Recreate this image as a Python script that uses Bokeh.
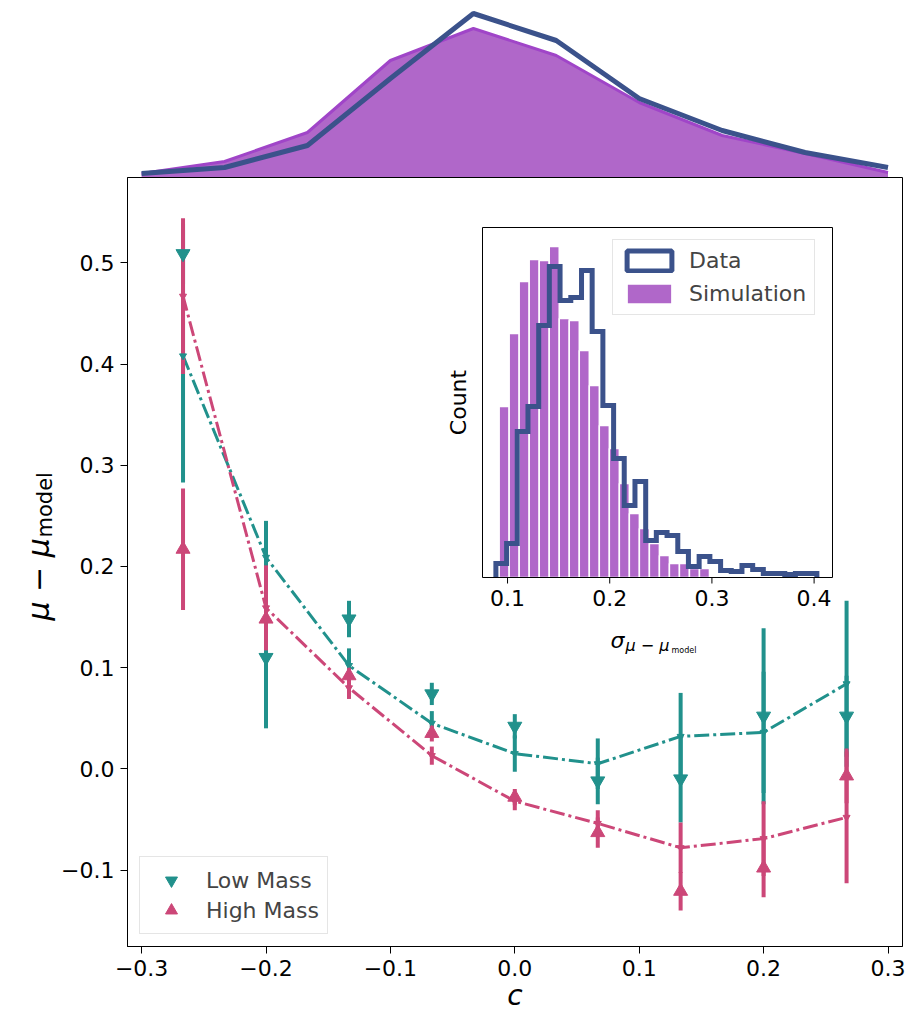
import numpy as np
from math import pi
from bokeh.plotting import figure
from bokeh.layouts import column, row
from bokeh.models import Range1d, FixedTicker, Legend, LegendItem, Label
from bokeh.core.properties import value
from bokeh.embed import file_html
from bokeh.resources import INLINE

FONT = "DejaVu Sans"
TEAL = "#21918c"
PINK = "#cc4778"
NAVY = "#3b528b"
PURPLE_FILL = "#b067c9"
PURPLE_EDGE = "#a045c8"

# ---------------- data ----------------
c_bins = [-0.2667, -0.2, -0.1333, -0.0667, 0.0, 0.0667, 0.1333, 0.2, 0.2667]

low_mean = [0.408, 0.209, 0.102, 0.045, 0.015, 0.005, 0.032, 0.036, 0.084]
low_mean_err = [0.125, 0.036, 0.017, 0.012, 0.018, 0.025, 0.043, 0.060, 0.082]
low_tri = [0.509, 0.110, 0.148, 0.074, 0.042, -0.012, -0.010, 0.052, 0.052]
low_tri_err = [0.030, 0.070, 0.018, 0.011, 0.012, 0.023, 0.043, 0.087, 0.040]

high_mean = [0.467, 0.159, 0.080, 0.013, -0.032, -0.054, -0.078, -0.069, -0.048]
high_mean_err = [0.077, 0.042, 0.011, 0.009, 0.009, 0.013, 0.025, 0.037, 0.065]
high_tri = [0.217, 0.148, 0.092, 0.035, -0.028, -0.063, -0.121, -0.098, -0.007]
high_tri_err = [0.060, 0.030, 0.008, 0.008, 0.008, 0.015, 0.019, 0.029, 0.027]

# marginal distribution of c (top panel)
top_c = [-0.3, -0.2333, -0.1667, -0.1, -0.0333, 0.0333, 0.1, 0.1667, 0.2333, 0.3]
top_data = [4, 10, 32, 99, 164, 137, 79, 47, 25, 10]
top_sim = [4, 16, 45, 117, 149, 122, 75, 42, 24, 5]

# inset histograms of sigma
sim_edges = [0.0918, 0.1016, 0.1114, 0.1212, 0.1310, 0.1408, 0.1506, 0.1604,
             0.1702, 0.1800, 0.1898, 0.1996, 0.2094, 0.2192, 0.2290, 0.2388,
             0.2486, 0.2584, 0.2682, 0.2780, 0.2878, 0.2976]
sim_counts = [171, 244, 296, 318, 317, 331, 259, 257, 227, 192, 152, 129, 94,
              64, 49, 34, 22, 14, 14, 9, 9]
data_edges = [0.0886, 0.0991, 0.1095, 0.1200, 0.1305, 0.1409, 0.1514, 0.1619,
              0.1724, 0.1828, 0.1933, 0.2038, 0.2142, 0.2247, 0.2352, 0.2456,
              0.2561, 0.2666, 0.2770, 0.2875, 0.2980, 0.3085, 0.3189, 0.3294,
              0.3399, 0.3503, 0.3608, 0.3713, 0.3817, 0.3922, 0.4027]
data_counts = [14, 34, 146, 171, 252, 311, 277, 280, 307, 246, 172, 119, 72,
               96, 37, 45, 42, 26, 11, 21, 16, 7, 6, 12, 8, 4, 4, 3, 4, 4]

x_ticks = [-0.3, -0.2, -0.1, 0.0, 0.1, 0.2, 0.3]
x_tick_labels = ["\u22120.3", "\u22120.2", "\u22120.1", "0.0", "0.1", "0.2", "0.3"]
y_ticks = [-0.1, 0.0, 0.1, 0.2, 0.3, 0.4, 0.5]
y_tick_labels = ["\u22120.1", "0.0", "0.1", "0.2", "0.3", "0.4", "0.5"]
inset_ticks = [0.1, 0.2, 0.3, 0.4]
inset_tick_labels = ["0.1", "0.2", "0.3", "0.4"]

# ---------------- page geometry (pixels) ----------------
FRAME_L, FRAME_R, FRAME_T, FRAME_B = 127, 902, 177, 946
X0_PX, PX_PER_X = 514.3, 1244.0      # page x of c = 0, pixels per unit c
Y0_PX, PX_PER_Y = 768.3, 1012.0      # page y of 0, pixels per unit


def px2x(px):
    return (px - X0_PX) / PX_PER_X


def py2y(py):
    return (Y0_PX - py) / PX_PER_Y


x_rng = Range1d(px2x(FRAME_L), px2x(FRAME_R))
y_rng = Range1d(py2y(FRAME_B), py2y(FRAME_T))

# ---------------- top marginal panel ----------------
top = figure(width=907, height=FRAME_T, x_range=x_rng, y_range=Range1d(0, FRAME_T),
             x_axis_location=None, y_axis_location=None,
             output_backend="svg", toolbar_location=None,
             min_border_left=FRAME_L, min_border_right=907 - FRAME_R,
             min_border_top=0, min_border_bottom=0)
top.grid.visible = False
top.outline_line_color = None
top.varea(x=top_c, y1=[0] * len(top_c), y2=top_sim, fill_color=PURPLE_FILL)
top.line(top_c, top_sim, line_color=PURPLE_EDGE, line_width=3)
top.line(top_c, top_data, line_color=NAVY, line_width=5)

# ---------------- y-label strip (frame aligned with the main frame) ----------------
YLAB_W = 58
MAIN_H = 1020 - FRAME_T
BOTTOM_B = MAIN_H - (FRAME_B - FRAME_T)
ylab = figure(width=YLAB_W, height=MAIN_H, x_range=Range1d(0, YLAB_W), y_range=y_rng,
              x_axis_location=None, y_axis_location=None,
              output_backend="svg", toolbar_location=None,
              min_border_left=0, min_border_right=0, min_border_top=0,
              min_border_bottom=BOTTOM_B)
ylab.grid.visible = False
ylab.outline_line_color = None
ylab.add_layout(Label(x=38, y=py2y(620), text="\u03bc \u2212 \u03bc", angle=pi / 2,
                      text_align="left", text_baseline="alphabetic", text_font=FONT,
                      text_font_size="30px", text_font_style="italic", text_color="black"))
ylab.add_layout(Label(x=44, y=py2y(537), text="model", angle=pi / 2,
                      text_align="left", text_baseline="alphabetic", text_font=FONT,
                      text_font_size="21px", text_color="black"))

# ---------------- main panel ----------------
main = figure(width=907 - YLAB_W, height=MAIN_H, x_range=x_rng, y_range=y_rng,
              output_backend="svg", toolbar_location=None,
              min_border_left=FRAME_L - YLAB_W, min_border_right=907 - FRAME_R,
              min_border_top=0, min_border_bottom=BOTTOM_B)
main.grid.visible = False
main.outline_line_color = "black"
main.outline_line_width = 1
main.outline_line_alpha = 1

main.xaxis.ticker = FixedTicker(ticks=x_ticks)
main.xaxis.major_label_overrides = dict(zip(x_ticks, x_tick_labels))
main.yaxis.ticker = FixedTicker(ticks=y_ticks)
main.yaxis.major_label_overrides = dict(zip(y_ticks, y_tick_labels))
for ax in main.axis:
    ax.major_tick_in = 0
    ax.major_tick_out = 7
    ax.minor_tick_line_color = None
    ax.axis_line_color = "black"
    ax.major_tick_line_color = "black"
    ax.major_label_text_font = FONT
    ax.major_label_text_font_size = "22px"
    ax.major_label_text_color = "black"
main.xaxis.major_label_standoff = 6
main.yaxis.major_label_standoff = 6
main.xaxis.axis_label = "c"
main.xaxis.axis_label_text_font = FONT
main.xaxis.axis_label_text_font_size = "28px"
main.xaxis.axis_label_text_font_style = "italic"
main.xaxis.axis_label_text_color = "black"
main.xaxis.axis_label_standoff = 0

lm = np.array(low_mean); lme = np.array(low_mean_err)
lt = np.array(low_tri); lte = np.array(low_tri_err)
hm = np.array(high_mean); hme = np.array(high_mean_err)
ht = np.array(high_tri); hte = np.array(high_tri_err)

main.line(c_bins, low_mean, line_color=TEAL, line_width=3, line_dash="15 4 3 4")
main.segment(c_bins, lm - lme, c_bins, lm + lme, line_color=TEAL, line_width=4)
main.segment(c_bins, lt - lte, c_bins, lt + lte, line_color=TEAL, line_width=4)
main.line(c_bins, high_mean, line_color=PINK, line_width=3, line_dash="15 4 3 4")
main.segment(c_bins, hm - hme, c_bins, hm + hme, line_color=PINK, line_width=4)
main.segment(c_bins, ht - hte, c_bins, ht + hte, line_color=PINK, line_width=4)

main.scatter(c_bins, low_mean, marker="inverted_triangle", size=7, color=TEAL)
r_low = main.scatter(c_bins, low_tri, marker="inverted_triangle", size=14, color=TEAL)
main.scatter(c_bins, high_mean, marker="inverted_triangle", size=7, color=PINK)
r_high = main.scatter(c_bins, high_tri, marker="triangle", size=14, color=PINK)

leg = Legend(items=[LegendItem(label="Low Mass", renderers=[r_low]),
                    LegendItem(label="High Mass", renderers=[r_high])],
             location="bottom_left", margin=12, padding=8, spacing=0,
             glyph_width=46, glyph_height=30, label_height=30, label_standoff=12,
             label_text_font=FONT, label_text_font_size="22px",
             border_line_color="#cccccc", border_line_width=1,
             background_fill_alpha=0.8)
main.add_layout(leg)

# ---------------- inset (sub-coordinates inside the main frame) ----------------
IN_L, IN_R, IN_T, IN_B = 482, 832, 227, 577
in_xsrc = Range1d(0.0755, 0.418)
in_ysrc = Range1d(0, 350)
sub = main.subplot(x_source=in_xsrc, y_source=in_ysrc,
                   x_target=Range1d(px2x(IN_L), px2x(IN_R)),
                   y_target=Range1d(py2y(IN_B), py2y(IN_T)))

sub.quad(left=[in_xsrc.start], right=[in_xsrc.end], bottom=[in_ysrc.start], top=[in_ysrc.end],
         fill_color="white", line_color=None)
r_sim = sub.quad(left=sim_edges[:-1], right=sim_edges[1:], bottom=0, top=sim_counts,
                 fill_color=PURPLE_FILL, line_color="white", line_width=1.5)

sx = [data_edges[0]]
sy = [0]
for i, cnt in enumerate(data_counts):
    sx += [data_edges[i], data_edges[i + 1]]
    sy += [cnt, cnt]
sx.append(data_edges[-1])
sy.append(0)
sub.line(sx, sy, line_color=NAVY, line_width=5, line_join="miter")
# legend swatch for the step histogram (outlined box); muted so it is not drawn in the plot
r_data_key = sub.patch(x=sx, y=sy, fill_alpha=0, line_color=NAVY, line_width=5,
                       muted_fill_alpha=0, muted_line_alpha=0)
r_data_key.muted = True

sub.quad(left=[in_xsrc.start], right=[in_xsrc.end], bottom=[in_ysrc.start], top=[in_ysrc.end],
         fill_alpha=0, line_color="black", line_width=1)
sub.segment(x0=inset_ticks, y0=[0] * 4, x1=inset_ticks, y1=[-6] * 4,
            line_color="black", line_width=1)
sub.text(x=inset_ticks, y=[-12] * 4, text=inset_tick_labels, text_align="center",
         text_baseline="top", text_font=value(FONT), text_font_size=value("22px"),
         text_color="black")

ileg = Legend(items=[LegendItem(label="Data", renderers=[r_data_key]),
                     LegendItem(label="Simulation", renderers=[r_sim])],
              location=(612 - FRAME_L, FRAME_B - 315), padding=8, spacing=8,
              glyph_width=56, glyph_height=25, label_height=25, label_standoff=12,
              label_text_font=FONT, label_text_font_size="22px",
              border_line_color="#cccccc", border_line_width=1,
              background_fill_alpha=0.8)
main.add_layout(ileg)

main.add_layout(Label(x=px2x(458), y=py2y(402), text="Count", angle=pi / 2,
                      text_align="center", text_baseline="middle", text_font=FONT,
                      text_font_size="22px", text_color="black"))
main.add_layout(Label(x=px2x(610), y=py2y(640), text="\u03c3", text_align="left",
                      text_baseline="alphabetic", text_font=FONT, text_font_size="22px",
                      text_font_style="italic", text_color="black"))
main.add_layout(Label(x=px2x(625), y=py2y(645), text="\u03bc \u2212 \u03bc", text_align="left",
                      text_baseline="alphabetic", text_font=FONT, text_font_size="16px",
                      text_font_style="italic", text_color="black"))
main.add_layout(Label(x=px2x(671), y=py2y(650), text="model", text_align="left",
                      text_baseline="alphabetic", text_font=FONT, text_font_size="8px",
                      text_color="black"))

p = column(top, row(ylab, main, spacing=0), spacing=0)
open("out.html", "w").write(file_html(p, INLINE))
